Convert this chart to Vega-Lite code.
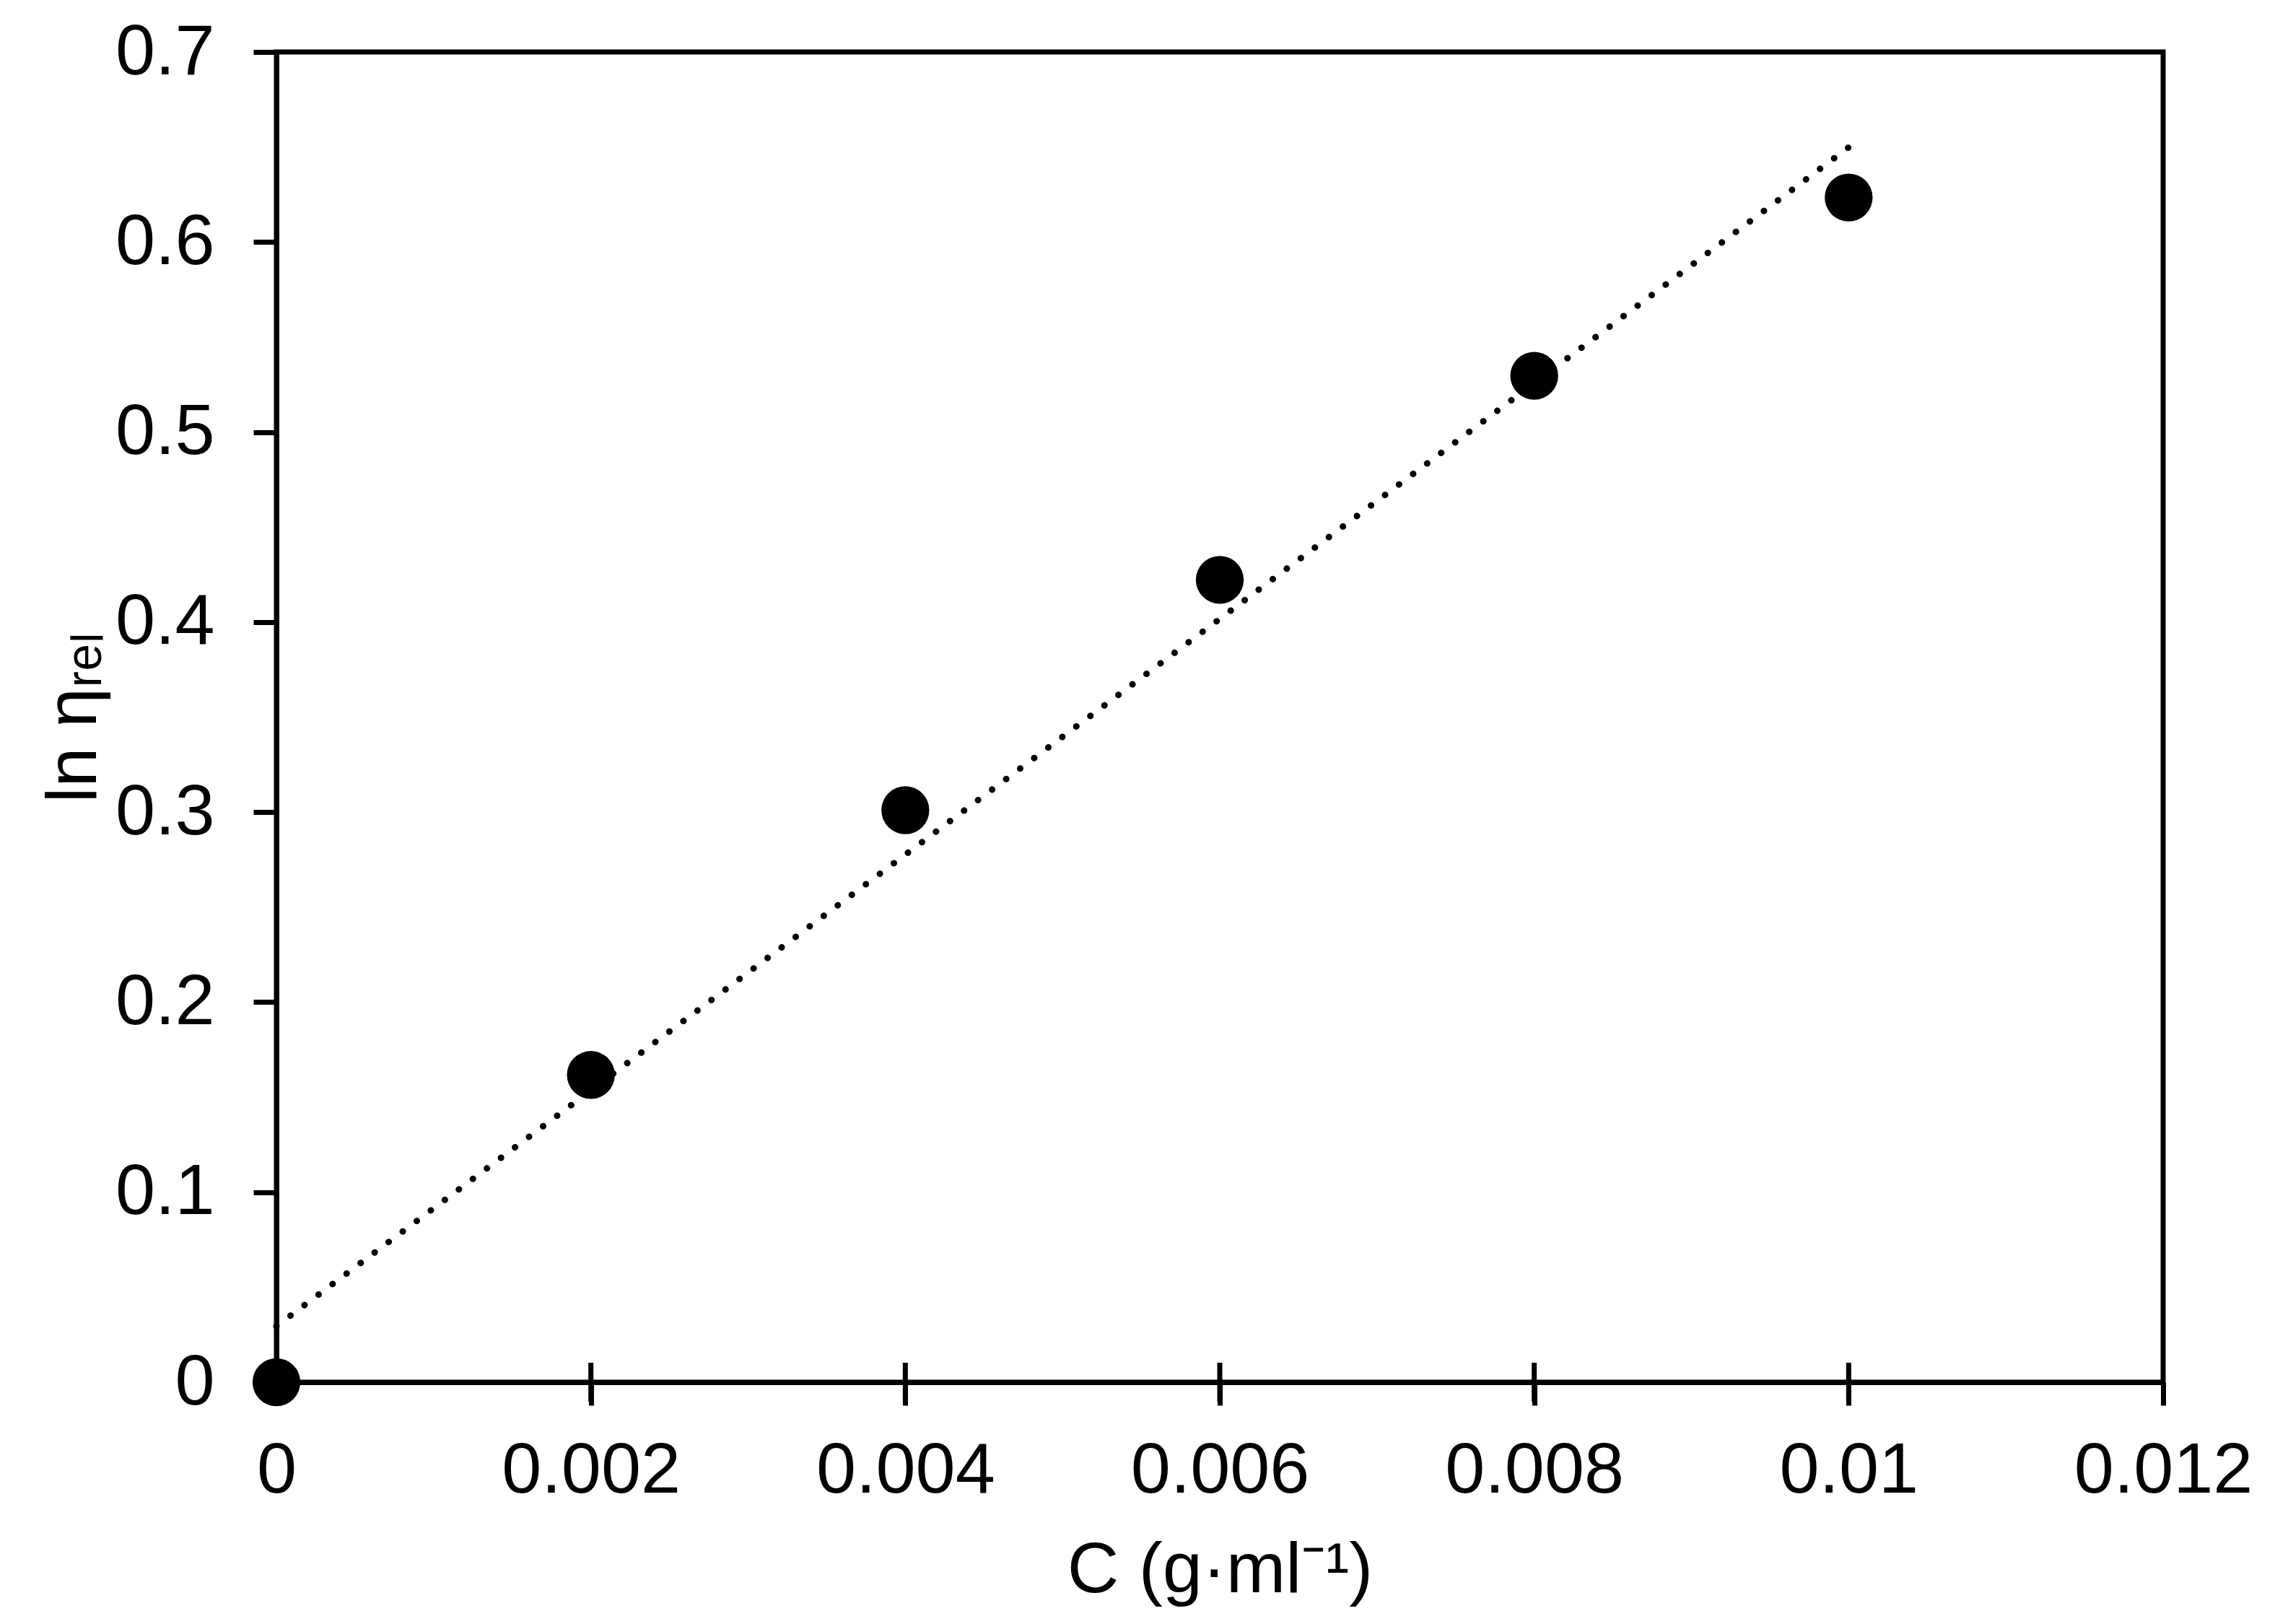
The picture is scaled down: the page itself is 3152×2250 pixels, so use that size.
{
  "$schema": "https://vega.github.io/schema/vega-lite/v6.json",
  "autosize": {"type": "none"},
  "width": 2614,
  "height": 1843,
  "padding": {"left": 383, "top": 72, "right": 155, "bottom": 335},
  "background": "white",
  "datasets": {
    "points": [
      {"C": 0, "lnrel": 0},
      {"C": 0.002, "lnrel": 0.1617},
      {"C": 0.004, "lnrel": 0.301},
      {"C": 0.006, "lnrel": 0.4222},
      {"C": 0.008, "lnrel": 0.5296},
      {"C": 0.01, "lnrel": 0.6234}
    ],
    "trend": [
      {"C": 0, "lnrel": 0.0295},
      {"C": 0.01, "lnrel": 0.6498}
    ],
    "xticks": [
      {"C": 0.002},
      {"C": 0.004},
      {"C": 0.006},
      {"C": 0.008},
      {"C": 0.01}
    ]
  },
  "layer": [
    {
      "data": {"name": "xticks"},
      "mark": {"type": "tick", "orient": "vertical", "size": 54, "thickness": 7, "color": "black", "opacity": 1},
      "encoding": {
        "x": {"field": "C", "type": "quantitative"},
        "y": {"datum": 0, "type": "quantitative"}
      }
    },
    {
      "data": {"name": "trend"},
      "mark": {"type": "line", "color": "black", "strokeWidth": 9, "strokeDash": [0.1, 24.2], "strokeCap": "round"},
      "encoding": {
        "x": {"field": "C", "type": "quantitative"},
        "y": {"field": "lnrel", "type": "quantitative"}
      }
    },
    {
      "data": {"name": "points"},
      "mark": {"type": "circle", "size": 4400, "color": "black", "opacity": 1},
      "encoding": {
        "x": {
          "field": "C", "type": "quantitative",
          "scale": {"domain": [0, 0.012], "nice": false, "zero": true},
          "axis": {
            "title": "C (g·ml⁻¹)",
            "values": [0, 0.002, 0.004, 0.006, 0.008, 0.01, 0.012],
            "format": "~g",
            "labelPadding": 42,
            "titlePadding": 40,
            "labelFlush": false,
            "labelOverlap": false,
            "labelLimit": 0
          }
        },
        "y": {
          "field": "lnrel", "type": "quantitative",
          "scale": {"domain": [0, 0.7], "nice": false},
          "axis": {
            "title": "ln ηᵣₑₗ",
            "values": [0, 0.1, 0.2, 0.3, 0.4, 0.5, 0.6, 0.7],
            "format": "~g",
            "labelPadding": 54,
            "titlePadding": 30,
            "labelFlush": false,
            "labelOverlap": false,
            "labelLimit": 0
          }
        }
      }
    }
  ],
  "config": {
    "view": {"stroke": "black", "strokeWidth": 7},
    "axis": {
      "grid": false,
      "domainColor": "black",
      "domainWidth": 7,
      "tickColor": "black",
      "tickWidth": 7,
      "tickSize": 32,
      "labelFont": "Liberation Sans",
      "labelFontSize": 99,
      "labelColor": "black",
      "titleFont": "Liberation Sans",
      "titleFontSize": 99,
      "titleFontWeight": "normal",
      "titleColor": "black"
    }
  }
}
